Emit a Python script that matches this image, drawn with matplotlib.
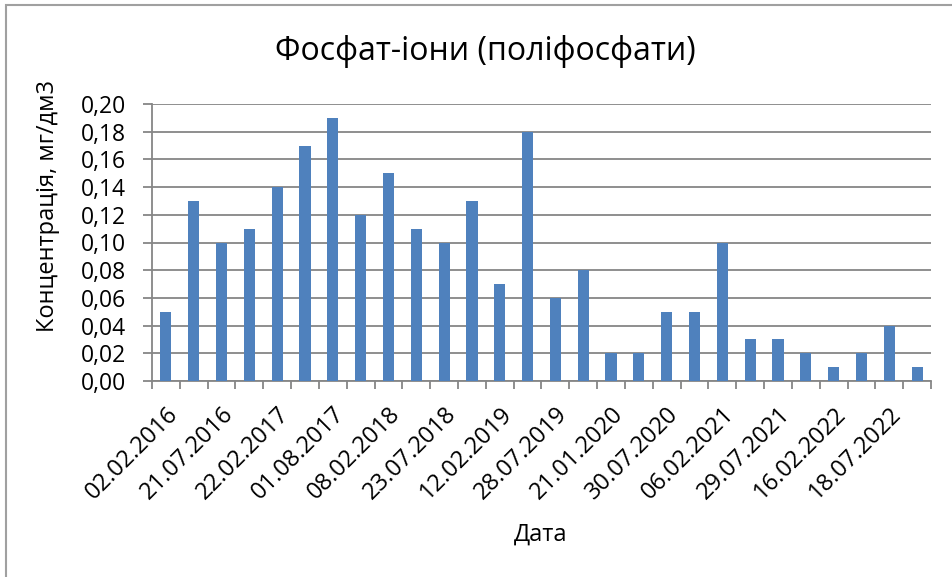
import matplotlib
matplotlib.use('Agg')
import matplotlib.pyplot as plt
import matplotlib.transforms as mtransforms
import numpy as np

# values per sampling date (28 samples, every second date labelled)
values = [0.05, 0.13, 0.10, 0.11, 0.14, 0.17, 0.19, 0.12, 0.15, 0.11,
          0.10, 0.13, 0.07, 0.18, 0.06, 0.08, 0.02, 0.02, 0.05, 0.05,
          0.10, 0.03, 0.03, 0.02, 0.01, 0.02, 0.04, 0.01]
date_labels = ["02.02.2016", "21.07.2016", "22.02.2017", "01.08.2017",
               "08.02.2018", "23.07.2018", "12.02.2019", "28.07.2019",
               "21.01.2020", "30.07.2020", "06.02.2021", "29.07.2021",
               "16.02.2022", "18.07.2022"]
y_ticks = [0.00, 0.02, 0.04, 0.06, 0.08, 0.10, 0.12, 0.14, 0.16, 0.18, 0.20]

plt.rcParams['font.family'] = ['Open Sans', 'DejaVu Sans']

W, H = 953, 577
fig = plt.figure(figsize=(W / 100, H / 100), dpi=100)
ax = fig.add_axes([152 / W, 1 - 381 / H, (931 - 152) / W, (381 - 104) / H])

GRID = '#868686'
x = np.arange(len(values))
ax.bar(x, values, width=0.4, color='#4F81BD', zorder=3)

ax.set_xlim(-0.5, len(values) - 0.5)
ax.set_ylim(0, 0.20)
ax.set_yticks(y_ticks)
ax.set_yticklabels([f"{v:.2f}".replace('.', ',') for v in y_ticks], fontsize=16.5)
ax.yaxis.grid(True, color=GRID, linewidth=1.3, zorder=0)

ax.set_xticks(x[::2])
ax.set_xticklabels(date_labels, rotation=45, ha='right', va='top',
                   rotation_mode='anchor', fontsize=17)
shift = mtransforms.ScaledTranslation(3 / 100, 0, fig.dpi_scale_trans)
for lab in ax.get_xticklabels():
    lab.set_transform(lab.get_transform() + shift)
ax.set_xticks(np.arange(-0.5, len(values)), minor=True)
ax.tick_params(axis='x', which='major', length=0, pad=15)
ax.tick_params(axis='x', which='minor', length=6, width=1.3, color=GRID)
ax.tick_params(axis='y', length=6.5, width=1.3, color=GRID, pad=12)

for s in ['top', 'right']:
    ax.spines[s].set_visible(False)
for s in ['left', 'bottom']:
    ax.spines[s].set_color(GRID)
    ax.spines[s].set_linewidth(1.3)

fig.text(485 / W, 1 - 52 / H, "Фосфат-іони (поліфосфати)", fontsize=23,
         ha='center', va='center')
fig.text(48 / W, 1 - 206 / H, "Концентрація, мг/дм3", fontsize=17,
         rotation=90, ha='center', va='center')
fig.text(541 / W, 1 - 535 / H, "Дата", fontsize=17, ha='center', va='center')

# chart frame
fig.patches.append(plt.Rectangle((6 / W, -0.1), 1.2, 1 - 5 / H + 0.1,
                                 transform=fig.transFigure, fill=False,
                                 edgecolor='#A0A0A0', linewidth=1.5))

fig.savefig('out.png', dpi=100)
